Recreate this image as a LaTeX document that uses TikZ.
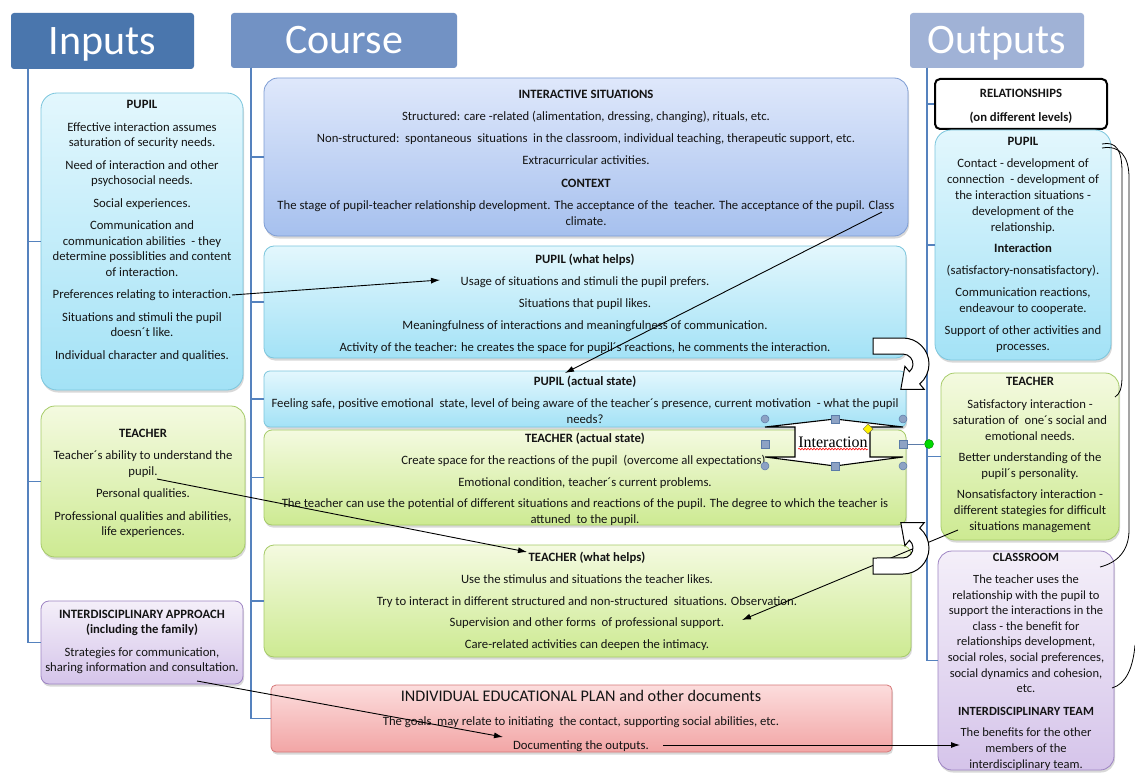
\documentclass[tikz,border=0pt]{standalone}
\usepackage{fontspec}
\setmainfont{Carlito}
\newfontfamily\serifx{Liberation Serif}
\usetikzlibrary{shadows,arrows.meta,decorations.pathmorphing,shapes.geometric}

\definecolor{hIn}{HTML}{4A76AD}
\definecolor{hCo}{HTML}{7292C4}
\definecolor{hOut}{HTML}{A0B2D6}
\definecolor{spine}{HTML}{5582BE}
\definecolor{cyT}{HTML}{E3F7FD}
\definecolor{cyB}{HTML}{A3E2F6}
\definecolor{cyD}{HTML}{7CC6DD}
\definecolor{grT}{HTML}{F4FAE0}
\definecolor{grB}{HTML}{CDEA92}
\definecolor{grD}{HTML}{A6CB68}
\definecolor{puT}{HTML}{F4EFF9}
\definecolor{puB}{HTML}{D5C4EA}
\definecolor{puD}{HTML}{9D84C3}
\definecolor{blT}{HTML}{DFE8FB}
\definecolor{blB}{HTML}{A6C0EE}
\definecolor{blD}{HTML}{7E9DD4}
\definecolor{reT}{HTML}{FCDDDD}
\definecolor{reB}{HTML}{F2A5A5}
\definecolor{reD}{HTML}{D67878}
\definecolor{hdl}{HTML}{8DA2C4}
\definecolor{hdlD}{HTML}{5B7BA8}
\definecolor{ink}{HTML}{141414}

\begin{document}
\begin{tikzpicture}[x=1pt,y=-1pt,
  hdr/.style={rounded corners=3pt, text=white, font=\fontsize{42}{42}\selectfont, inner sep=0pt, text height=27pt, text depth=0pt},
  bx/.style={draw, line width=0.8pt, inner sep=0pt, drop shadow={shadow xshift=1pt, shadow yshift=-2.5pt, opacity=0.3}},
  cybox/.style={bx, draw=cyD, top color=cyT, bottom color=cyB},
  grbox/.style={bx, draw=grD, top color=grT, bottom color=grB},
  pubox/.style={bx, draw=puD, top color=puT, bottom color=puB},
  blbox/.style={bx, draw=blD, top color=blT, bottom color=blB},
  rebox/.style={bx, draw=reD, top color=reT, bottom color=reB},
  txt/.style={align=center, anchor=north, inner sep=0pt, text=ink, font=\fontsize{12.7}{15.5}\selectfont},
  otxt/.style={txt, font=\fontsize{12.7}{16}\selectfont},
  ctxt/.style={txt, font=\fontsize{12.5}{15.6}\selectfont},
  sp/.style={draw=spine, line width=1.8pt},
  arr/.style={-{Latex[length=9pt,width=6pt]}, line width=0.9pt},
  hc/.style={circle, fill=hdl, draw=hdlD, line width=0.5pt, minimum size=8pt, inner sep=0pt},
  hs/.style={rectangle, fill=hdl, draw=hdlD, line width=0.5pt, minimum size=8pt, inner sep=0pt},
  uturn/.style={fill=white, draw=black, line width=1pt},
  link/.style={draw=black, line width=0.8pt},
]
\useasboundingbox[fill=white] (0,0) rectangle (1135,773);

% headers
\node[hdr, fill=hIn, minimum width=183pt, minimum height=56pt] (inH) at (102.5,41) {Inputs};
\node[hdr, fill=hCo, minimum width=226pt, minimum height=55pt] (coH) at (344,40.5) {Course};
\node[hdr, fill=hOut, minimum width=174pt, minimum height=55pt] (outH) at (997,40.5) {Outputs};

% spine tops
\coordinate (inS) at (28,69);
\coordinate (coS) at (251,68);
\coordinate (outS) at (927,68);

% boxes
\node[cybox, rounded corners=16pt, minimum width=202pt, minimum height=297pt] (inPupil) at (142,241.5) {};
\node[grbox, rounded corners=14pt, minimum width=204pt, minimum height=151pt] (inTeacher) at (143,481.5) {};
\node[pubox, rounded corners=8pt, minimum width=202pt, minimum height=83pt] (inInter) at (142,642.5) {};

\node[blbox, rounded corners=14pt, minimum width=644pt, minimum height=158pt] (coSit) at (586,157) {};
\node[cybox, rounded corners=10pt, minimum width=642pt, minimum height=112pt] (coPH) at (585,302) {};
\node[cybox, rounded corners=6pt, minimum width=642pt, minimum height=56pt] (coPA) at (585,399) {};
\node[grbox, rounded corners=8pt, minimum width=642pt, minimum height=95pt] (coTA) at (585,477.5) {};
\node[grbox, rounded corners=10pt, minimum width=647pt, minimum height=112pt] (coTH) at (587.5,601) {};
\node[rebox, rounded corners=5pt, minimum width=621pt, minimum height=67pt] (coIEP) at (581.5,718.5) {};

\node[draw=black, line width=2pt, fill=white, rounded corners=5pt, minimum width=172pt, minimum height=50pt, inner sep=0pt] (outRel) at (1021,104) {};
\node[cybox, rounded corners=16pt, minimum width=176pt, minimum height=230pt] (outPupil) at (1023,245) {};
\node[grbox, rounded corners=14pt, minimum width=178pt, minimum height=167pt] (outTeacher) at (1030,456.5) {};
\node[pubox, rounded corners=14pt, minimum width=176pt, minimum height=219pt] (outClass) at (1026,660.5) {};

% spines
\foreach \b in {inPupil,inTeacher,inInter} \draw[sp] (inS) |- (\b.west);
\foreach \b in {coSit,coPH,coPA,coTA,coTH,coIEP} \draw[sp] (coS) |- (\b.west);
\foreach \b in {outRel,outPupil,outTeacher,outClass} \draw[sp] (outS) |- (\b.west);

% texts - inputs
\node[txt] (tInPupil) at (142,100.5) {\textbf{PUPIL}\\[7pt]
Effective interaction assumes\\ saturation of security needs.\\[7pt]
Need of interaction\ and other\\ psychosocial needs.\\[7pt]
Social experiences.\\[7pt]
Communication and\\ communication abilities\ \ - they\\ determine possiblities and content\\ of interaction.\\[7pt]
Preferences relating to interaction.\\[7pt]
Situations and stimuli the pupil\\ doesn´t like.\\[7pt]
Individual character and qualities.};
\node[txt] (tInTeacher) at (143,428.5) {\textbf{TEACHER}\\[7pt]
Teacher´s ability to understand the\\ pupil.\\[7pt]
Personal qualities.\\[7pt]
Professional qualities and abilities,\\ life experiences.};
\node[txt] (tInInter) at (142,609.5) {\textbf{INTERDISCIPLINARY APPROACH}\\ \textbf{(including the family)}\\[7pt]
Strategies for communication,\\ sharing information and consultation.};

% texts - course
\node[txt] (tSit) at (586,89.5) {\textbf{INTERACTIVE SITUATIONS}\\[7pt]
Structured: care -related (alimentation, dressing, changing), rituals, etc.\\[6pt]
Non-structured:\ \ spontaneous\ \ situations\ \ in the classroom, individual teaching, therapeutic support, etc.\\[7pt]
Extracurricular activities.\\[7pt]
\textbf{CONTEXT}\\[7pt]
The stage of pupil-teacher relationship development. The acceptance of the\ \ teacher. The acceptance of the pupil. Class\\ climate.};
\node[txt] (tPH) at (585,253.5) {\textbf{PUPIL (what helps)}\\[7pt]
Usage of situations and stimuli the pupil prefers.\\[6pt]
Situations that pupil likes.\\[7pt]
Meaningfulness of interactions and meaningfulness of communication.\\[6pt]
Activity of the teacher: he creates the space for pupil´s reactions, he comments the interaction.};
\node[txt] (tPA) at (585,375.5) {\textbf{PUPIL (actual state)}\\[7pt]
Feeling safe, positive emotional\ \ state, level of being aware of the teacher´s presence, current motivation\ \ - what the pupil\\ needs?};
\node[txt] (tTA) at (585,432.5) {\textbf{TEACHER (actual state)}\\[7pt]
Create space for the reactions of the pupil\ \ (overcome all expectations).\\[6pt]
Emotional condition, teacher´s current problems.\\[6pt]
The teacher can use the potential of different situations and reactions of the pupil. The degree to which the teacher is\\ attuned\ \ to the pupil.};
\node[txt] (tTH) at (587,551.5) {\textbf{TEACHER (what helps)}\\[7pt]
Use the stimulus and situations the teacher likes.\\[6pt]
Try to interact in different structured and non-structured\ \ situations. Observation.\\[6pt]
Supervision and other forms\ \ of professional support.\\[6pt]
Care-related activities can deepen the intimacy.};
\node[font=\fontsize{16.2}{17}\selectfont, text=ink, inner sep=0pt] (tIEPh) at (581,695.5) {INDIVIDUAL EDUCATIONAL PLAN and other documents};
\node[txt] (tIEP) at (581,716.5) {The goals\ \ may relate to initiating\ \ the contact, supporting social abilities, etc.\\[8.5pt]
Documenting the outputs.};

% texts - outputs
\node[otxt] (tRel) at (1021,88.5) {\textbf{RELATIONSHIPS}\\[8.5pt]\textbf{(on different levels)}};
\node[otxt] (tOutPupil) at (1023,137.5) {\textbf{PUPIL}\\[6pt]
Contact - development of\\ connection\ \ - development of\\ the interaction situations -\\ development of the\\ relationship.\\[5pt]
\textbf{Interaction}\\[6pt]
(satisfactory-nonsatisfactory).\\[6pt]
Communication reactions,\\ endeavour to cooperate.\\[6pt]
Support of other activities and\\ processes.};
\node[otxt] (tOutTeacher) at (1030,377) {\textbf{TEACHER}\\[7pt]
Satisfactory interaction -\\ saturation of\ \ one´s social and\\ emotional needs.\\[5pt]
Better understanding of the\\ pupil´s personality.\\[5pt]
Nonsatisfactory interaction -\\ different stategies for difficult\\ situations management};
\node[ctxt] (tOutClass) at (1026,553.5) {\textbf{CLASSROOM}\\[6pt]
The teacher uses the\\ relationship with the pupil to\\ support the interactions in the\\ class - the benefit for\\ relationships development,\\ social roles, social preferences,\\ social dynamics and cohesion,\\ etc.\\[7pt]
\textbf{INTERDISCIPLINARY TEAM}\\[6pt]
The benefits for the other\\ members of the\\ interdisciplinary team.};

% arrows
\coordinate (a1s) at (232,295); \coordinate (a1e) at (440,280);
\coordinate (a2s) at (882,212); \coordinate (a2e) at (565,373);
\coordinate (a3s) at (157,479); \coordinate (a3e) at (527,552);
\coordinate (a4s) at (958,530); \coordinate (a4e) at (742,620);
\coordinate (a5s) at (197,681); \coordinate (a5e) at (503,737);
\coordinate (a6s) at (663,745); \coordinate (a6e) at (960,745);
\draw[arr] (a1s) -- (a1e);
\draw[arr] (a2s) -- (a2e);
\draw[arr] (a3s) -- (a3e);
\draw[arr] (a4s) -- (a4e);
\draw[arr] (a5s) -- (a5e);
\draw[arr] (a6s) -- (a6e);

% U-turn arrows
\draw[uturn] (873,338) -- (903,338) arc[start angle=-90, end angle=50, radius=26] -- (924.2,389.3) -- (900.8,389.4) -- (904.9,366.3) -- (909.4,371.7) arc[start angle=50, end angle=-90, radius=10] -- (873,354) -- cycle;
\draw[uturn] (873,574) -- (903,574) arc[start angle=90, end angle=-50, radius=26] -- (924.2,522.7) -- (900.8,522.6) -- (904.9,545.7) -- (909.4,540.3) arc[start angle=-50, end angle=90, radius=10] -- (873,558) -- cycle;

% interaction shape
\draw[fill=white, draw=black, line width=1.1pt] (765,427) -- (835,419) -- (903,427) -- (870,427) -- (870,457) -- (903,457) -- (835,466) -- (765,457) -- (795,457) -- (795,427) -- cycle;
\node[font=\serifx\fontsize{16}{16}\selectfont, inner sep=0pt] (inter) at (833,442) {Interaction};
\draw[red, line width=0.6pt, decorate, decoration={snake, amplitude=0.8pt, segment length=3pt}] (inter.south west) ++(0,1.5) -- ++(70,0);
% selection handles
\node[hc] (h1) at (765,419) {};
\node[hc] (h2) at (903,419) {};
\node[hc] (h3) at (765,466) {};
\node[hc] (h4) at (903,466) {};
\node[hs] (h5) at (835,419) {};
\node[hs] (h6) at (835,466) {};
\node[hs] (h7) at (765,444) {};
\node[hs] (h8) at (903,444) {};
\node[diamond, fill=yellow, draw=black!60!yellow, line width=0.5pt, minimum size=10pt, inner sep=0pt] (hy) at (868,429) {};
\node[circle, fill=green!85!black, draw=green!50!black, line width=0.4pt, minimum size=9pt, inner sep=0pt] (hg) at (929,444) {};
\draw[draw=hdlD, line width=0.8pt] (h8) -- (hg);

% right-hand curves
\coordinate (r1s) at (1102,144); \coordinate (r1e) at (1115,397);
\coordinate (r2s) at (1102,148); \coordinate (r2e) at (1100,567);
\coordinate (r3s) at (1135,645); \coordinate (r3e) at (1112,688);
\draw[link] (r1s) .. controls (1116,141) and (1122,150) .. (1122,172) -- (1122,376) .. controls (1122,388) and (1120,394) .. (r1e);
\draw[link] (r2s) .. controls (1120,145) and (1129,156) .. (1129,178) -- (1129,530) .. controls (1129,552) and (1116,563) .. (r2e);
\draw[link] (r3s) .. controls (1133,668) and (1126,684) .. (r3e);
\end{tikzpicture}
\end{document}
